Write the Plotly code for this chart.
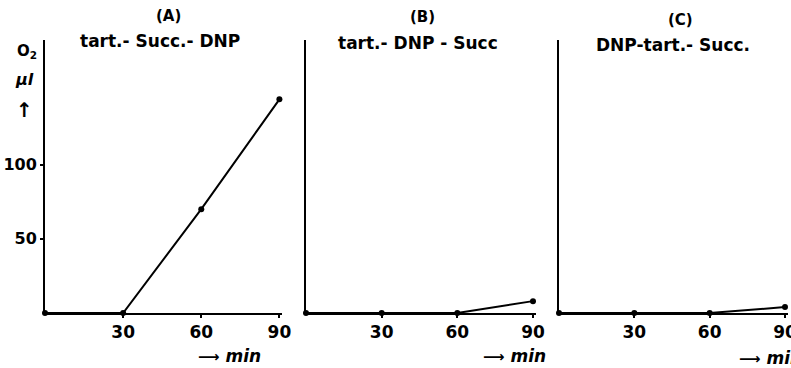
import plotly.graph_objects as go

# Data
time_min = [0, 30, 60, 90]
o2_A = [0, 0, 70, 144]
o2_B = [0, 0, 0, 8]
o2_C = [0, 0, 0, 4]
panel_letters = ["(A)", "(B)", "(C)"]
panel_titles = ["tart.- Succ.- DNP", "tart.- DNP - Succ", "DNP-tart.- Succ."]
x_ticks = [30, 60, 90]
y_ticks = [50, 100]

W, H = 791, 368
FONT = "DejaVu Sans"

fig = go.Figure()

series = [o2_A, o2_B, o2_C]
# pixel geometry (left px, right px) for each panel's x axis
xpix = [(45, 282), (306, 535.5), (559, 787.5)]
ybot, ytop = 313, 40
ydom = [(H - ybot) / H, (H - ytop) / H]

for i, ys in enumerate(series):
    n = "" if i == 0 else str(i + 1)
    fig.add_trace(go.Scatter(
        x=time_min, y=ys, mode="lines+markers",
        line=dict(color="black", width=2),
        marker=dict(color="black", size=6),
        xaxis="x" + n, yaxis="y" + n, showlegend=False, cliponaxis=False,
    ))
    xl, xr = xpix[i]
    fig.update_layout(**{
        "xaxis" + n: dict(
            domain=[xl / W, xr / W], range=[0, 91],
            tickvals=x_ticks, ticktext=[str(v) for v in x_ticks],
            showgrid=False, zeroline=False, showline=True,
            linecolor="black", linewidth=2, ticks="outside", ticklen=3,
            tickcolor="black", tickwidth=2, automargin=False,
            ticklabeloverflow="allow",
            tickfont=dict(family=FONT, size=17, color="black", weight="bold"),
            anchor="y" + n, fixedrange=True,
        ),
        "yaxis" + n: dict(
            domain=ydom, range=[0, 184],
            tickvals=y_ticks if i == 0 else [],
            ticktext=[str(v) for v in y_ticks] if i == 0 else [],
            showgrid=False, zeroline=False, showline=True,
            linecolor="black", linewidth=2, automargin=False,
            ticklabeloverflow="allow",
            ticks="outside" if i == 0 else "", ticklen=3,
            tickcolor="black", tickwidth=2,
            tickfont=dict(family=FONT, size=16, color="black", weight="bold"),
            anchor="x" + n, fixedrange=True,
        ),
    })

annots = []
letter_pos = [(168, 16), (422, 17), (680, 20)]
title_pos = [(160, 41), (418, 43), (673, 45)]
min_pos = [(229, 356), (514, 356), (770, 358)]
for i in range(3):
    annots.append(dict(x=letter_pos[i][0] / W, y=1 - letter_pos[i][1] / H,
                       xref="paper", yref="paper", text=panel_letters[i],
                       showarrow=False, xanchor="center", yanchor="middle",
                       font=dict(family=FONT, size=15, color="black", weight="bold")))
    annots.append(dict(x=title_pos[i][0] / W, y=1 - title_pos[i][1] / H,
                       xref="paper", yref="paper", text=panel_titles[i],
                       showarrow=False, xanchor="center", yanchor="middle",
                       font=dict(family=FONT, size=17, color="black", weight="bold")))
    annots.append(dict(x=min_pos[i][0] / W, y=1 - min_pos[i][1] / H,
                       xref="paper", yref="paper",
                       text="<span style='font-size:15px'>⟶</span> <i>min</i>",
                       showarrow=False, xanchor="center", yanchor="middle",
                       font=dict(family=FONT, size=17, color="black", weight="bold")))

for txt, (px, py), sz in [("O<sub>2</sub>", (27, 52), 15), ("<i>μl</i>", (25, 80), 16), ("↑", (24, 110), 20)]:
    annots.append(dict(x=px / W, y=1 - py / H, xref="paper", yref="paper", text=txt,
                       showarrow=False, xanchor="center", yanchor="middle",
                       font=dict(family=FONT, size=sz, color="black", weight="bold")))

fig.update_layout(
    width=W, height=H,
    margin=dict(l=0, r=0, t=0, b=0),
    paper_bgcolor="white", plot_bgcolor="white",
    annotations=annots,
)

fig.write_html("out.html", config={"displayModeBar": False},
               post_script="document.body.style.margin='0';document.body.style.overflow='hidden';")
